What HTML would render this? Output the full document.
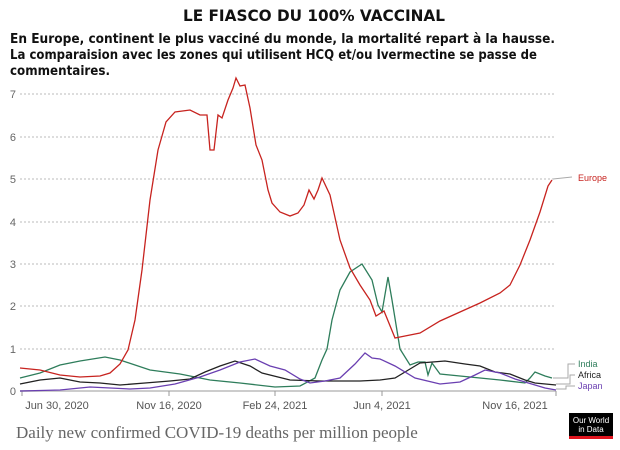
<!DOCTYPE html><html><head><style>
body{margin:0;width:620px;height:445px;background:#fff;overflow:hidden;font-family:"Liberation Sans",sans-serif}
</style></head><body>
<svg width="620" height="445" xmlns="http://www.w3.org/2000/svg" font-family="Liberation Sans, sans-serif">
<text x="183" y="21" textLength="262" lengthAdjust="spacingAndGlyphs" font-family="DejaVu Sans, sans-serif" font-size="16" font-weight="bold" fill="#111">LE FIASCO DU 100% VACCINAL</text>
<g font-family="DejaVu Sans, sans-serif" font-size="13" font-weight="bold" fill="#111">
<text x="10" y="43" textLength="545" lengthAdjust="spacingAndGlyphs">En Europe, continent le plus vacciné du monde, la mortalité repart à la hausse.</text>
<text x="10" y="59" textLength="527" lengthAdjust="spacingAndGlyphs">La comparaision avec les zones qui utilisent HCQ et/ou Ivermectine se passe de</text>
<text x="10" y="75" textLength="100" lengthAdjust="spacingAndGlyphs">commentaires.</text></g>
<g stroke="#bbb" stroke-dasharray="2,2" stroke-width="1">
<line x1="20" x2="556" y1="94" y2="94"/><line x1="20" x2="556" y1="137" y2="137"/><line x1="20" x2="556" y1="179" y2="179"/><line x1="20" x2="556" y1="222" y2="222"/><line x1="20" x2="556" y1="264" y2="264"/><line x1="20" x2="556" y1="306" y2="306"/><line x1="20" x2="556" y1="349" y2="349"/>
</g>
<line x1="20" x2="556" y1="391" y2="391" stroke="#ccc" stroke-width="2"/>
<g font-size="11" fill="#666" text-anchor="end">
<text x="16" y="98">7</text><text x="16" y="141">6</text><text x="16" y="183">5</text><text x="16" y="226">4</text><text x="16" y="268">3</text><text x="16" y="310">2</text><text x="16" y="353">1</text><text x="16" y="395">0</text></g>
<g stroke="#999"><line x1="22" x2="22" y1="391" y2="396"/><line x1="169" x2="169" y1="391" y2="396"/><line x1="275" x2="275" y1="391" y2="396"/><line x1="382" x2="382" y1="391" y2="396"/><line x1="556" x2="556" y1="391" y2="396"/></g>
<g font-size="11" fill="#555" text-anchor="middle">
<text x="57" y="409">Jun 30, 2020</text><text x="169" y="409">Nov 16, 2020</text><text x="275" y="409">Feb 24, 2021</text><text x="382" y="409">Jun 4, 2021</text><text x="515" y="409">Nov 16, 2021</text></g>
<g fill="none" stroke-width="1.3">
<polyline stroke="#2e7d5b" points="20,378 40,373 60,365 80,361 105,357 120,360 150,370 180,374 210,380 240,383 275,387 300,386 315,378 322,360 327,349 332,320 340,290 350,272 362,264 372,280 378,305 382,312 388,277 392,300 400,349 410,365 418,362 425,362 428,375 432,363 440,374 480,378 500,380 525,383 530,378 535,372 545,376 552,378"/>
<polyline stroke="#222" points="20,384 40,380 60,378 80,382 100,383 120,385 145,383 170,381 190,379 205,372 220,366 235,361 250,366 262,373 290,380 320,381 360,381 380,380 395,378 410,369 420,363 445,361 465,364 480,366 495,372 510,374 525,380 535,383 556,385"/>
<polyline stroke="#6a3fb1" points="20,391 60,390 90,387 130,389 150,388 175,384 200,377 220,370 240,362 255,359 270,366 285,370 300,379 310,383 325,381 340,378 355,364 365,353 372,358 380,359 395,366 415,378 440,384 460,382 475,375 485,370 500,373 515,379 525,382 545,388 556,390"/>
<polyline stroke="#c7231f" points="20,368 40,370 60,375 80,377 100,376 110,373 120,364 128,350 135,320 142,270 150,200 158,150 166,122 175,112 190,110 200,115 207,115 210,150 214,150 218,115 222,118 228,100 233,88 236,78 240,86 245,85 250,108 256,145 262,160 268,190 272,203 280,212 290,216 298,213 304,205 309,190 314,199 318,190 322,178 330,195 340,240 350,268 360,285 370,300 376,316 384,311 395,338 405,336 420,333 440,321 460,312 480,303 500,293 510,285 520,265 530,240 540,212 548,186 552,180"/>
</g>
<line x1="553" x2="572" y1="179" y2="177" stroke="#aaa"/>
<text x="578" y="181" font-size="9" fill="#c7231f">Europe</text>
<polyline fill="none" stroke="#aaa" points="553,378 568,378 568,364 575,364"/>
<polyline fill="none" stroke="#aaa" points="556,384 570,384 570,375 575,375"/>
<polyline fill="none" stroke="#aaa" points="556,389 566,389 566,386 575,386"/>
<text x="578" y="367" font-size="9" fill="#2e7d5b">India</text>
<text x="578" y="378" font-size="9" fill="#222">Africa</text>
<text x="578" y="389" font-size="9" fill="#6a3fb1">Japan</text>
<text x="16" y="438" font-family="Liberation Serif, serif" font-size="17" fill="#666">Daily new confirmed COVID-19 deaths per million people</text>
<rect x="569" y="413" width="44" height="26" fill="#000"/>
<rect x="569" y="436" width="44" height="3" fill="#e0141e"/>
<text x="591" y="423" font-size="8" fill="#fff" text-anchor="middle">Our World</text>
<text x="591" y="432" font-size="8" fill="#fff" text-anchor="middle">in Data</text>
</svg>
</body></html>
